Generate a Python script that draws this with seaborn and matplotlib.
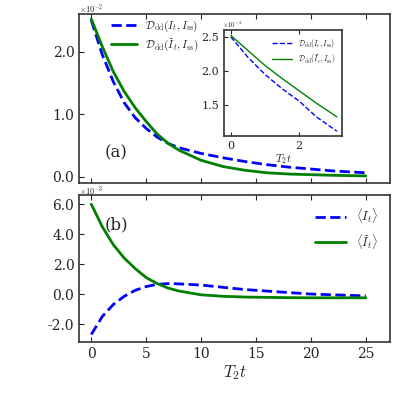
import matplotlib
matplotlib.use("Agg")
import matplotlib.pyplot as plt
import seaborn as sns
import numpy as np

sns.set_style("ticks")
plt.rcParams['font.family'] = ['DejaVu Serif']
plt.rcParams['mathtext.fontset'] = 'cm'
plt.rcParams['xtick.direction'] = 'in'
plt.rcParams['ytick.direction'] = 'in'

t = [0, 1, 2, 3, 4, 5, 6, 7, 8, 10, 12, 14, 16, 18, 20, 22, 25]
d_blue = [2.5, 1.95, 1.52, 1.18, 0.94, 0.77, 0.63, 0.53, 0.46, 0.37, 0.30, 0.24, 0.19, 0.15, 0.12, 0.09, 0.06]
d_green = [2.52, 2.08, 1.68, 1.36, 1.10, 0.88, 0.68, 0.53, 0.42, 0.26, 0.16, 0.10, 0.06, 0.04, 0.03, 0.02, 0.01]
ti = [0, 0.5, 1, 1.5, 2, 2.5, 3.1]
i_blue = [2.5, 2.2, 1.95, 1.74, 1.56, 1.33, 1.12]
i_green = [2.52, 2.3, 2.08, 1.89, 1.71, 1.53, 1.33]
e_blue = [-2.7, -1.5, -0.7, -0.15, 0.25, 0.5, 0.65, 0.7, 0.68, 0.6, 0.45, 0.3, 0.2, 0.1, 0.0, -0.05, -0.12]
e_green = [6.0, 4.5, 3.3, 2.4, 1.7, 1.1, 0.7, 0.4, 0.2, -0.05, -0.15, -0.2, -0.22, -0.24, -0.25, -0.25, -0.25]

fig = plt.figure(figsize=(4, 4), dpi=100)
ax1 = fig.add_axes([0.198, 0.543, 0.777, 0.422])
ax2 = fig.add_axes([0.198, 0.145, 0.777, 0.367])
ax3 = fig.add_axes([0.56, 0.66, 0.295, 0.265])

lb = r'$\mathcal{D}_{\rm dd}(I_t, I_{\rm ss})$'
lg = r'$\mathcal{D}_{\rm dd}(\widetilde{I}_t, I_{\rm ss})$'
sns.lineplot(x=t, y=d_blue, ax=ax1, color='blue', ls='--', lw=2, label=lb)
sns.lineplot(x=t, y=d_green, ax=ax1, color='green', lw=2, label=lg)
ax1.set_xlim(-1.1, 27.2); ax1.set_ylim(-0.1, 2.6)
ax1.set_yticks([0, 1, 2]); ax1.set_yticklabels(['0.0', '1.0', '2.0'])
ax1.set_xticks([0, 5, 10, 15, 20, 25]); ax1.set_xticklabels([])
ax1.text(0.0, 1.01, r'$\times10^{-2}$', transform=ax1.transAxes, fontsize=6)
ax1.legend(loc='upper left', bbox_to_anchor=(0.07, 1.03), frameon=False, fontsize=8,
           handlelength=2.3, labelspacing=0.2)
ax1.text(1.2, 0.3, '(a)', fontsize=12)

sns.lineplot(x=ti, y=i_blue, ax=ax3, color='blue', ls='--', lw=1, label=lb)
sns.lineplot(x=ti, y=i_green, ax=ax3, color='green', lw=1, label=lg)
ax3.set_xlim(-0.2, 3.25); ax3.set_ylim(1.05, 2.6)
ax3.set_yticks([1.5, 2.0, 2.5]); ax3.set_xticks([0, 2])
ax3.tick_params(labelsize=8, length=3)
ax3.set_xlabel(r'$T_2t$', fontsize=8, labelpad=1)
ax3.text(-0.02, 1.02, r'$\times10^{-2}$', transform=ax3.transAxes, fontsize=5)
ax3.legend(loc='upper right', frameon=False, fontsize=5.5, handlelength=2.5, labelspacing=0.3)
ax3.set_facecolor('white')

sns.lineplot(x=t, y=e_blue, ax=ax2, color='blue', ls='--', lw=2, label=r'$\langle I_t\rangle$')
sns.lineplot(x=t, y=e_green, ax=ax2, color='green', lw=2, label=r'$\langle \widetilde{I}_t\rangle$')
ax2.set_xlim(-1.1, 27.2); ax2.set_ylim(-3.2, 6.6)
ax2.set_yticks([-2, 0, 2, 4, 6]); ax2.set_yticklabels(['-2.0', '0.0', '2.0', '4.0', '6.0'])
ax2.set_xticks([0, 5, 10, 15, 20, 25])
ax2.set_xlabel(r'$T_2t$', fontsize=12, labelpad=2)
ax2.text(0.0, 1.01, r'$\times10^{-3}$', transform=ax2.transAxes, fontsize=6)
ax2.legend(loc='upper right', frameon=False, fontsize=9, handlelength=2.5)
ax2.text(1.2, 4.3, '(b)', fontsize=12)

for ax in (ax1, ax2, ax3):
    for s in ax.spines.values():
        s.set_visible(True); s.set_color('#333333'); s.set_linewidth(1.2)
    ax.tick_params(top=True, right=False)
for ax in (ax1, ax2):
    ax.tick_params(labelsize=10)

fig.savefig('out.png', dpi=100)
